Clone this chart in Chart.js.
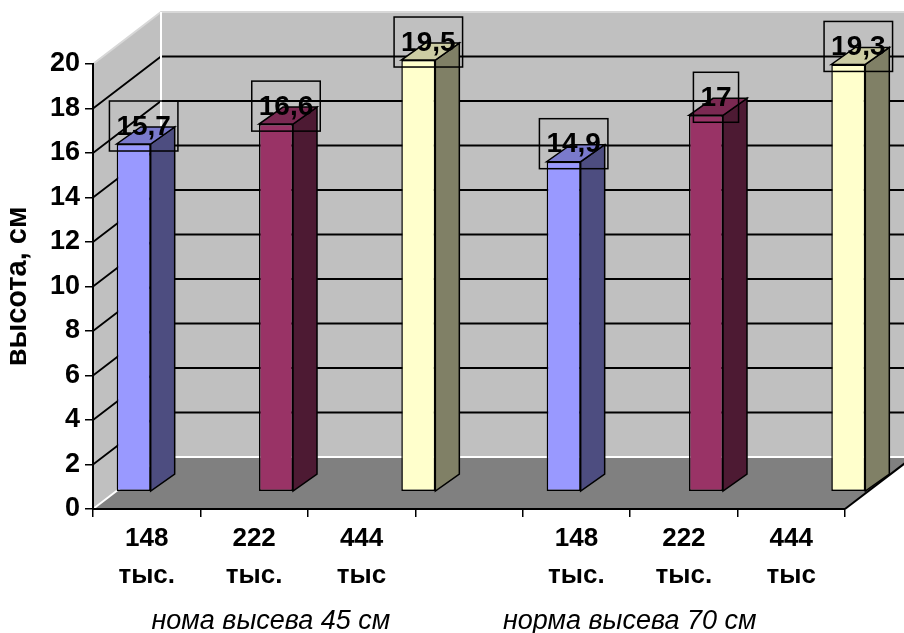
<!DOCTYPE html>
<html>
<head>
<meta charset="utf-8">
<script src="https://cdn.jsdelivr.net/npm/chart.js@4.4.0/dist/chart.umd.min.js"></script>
<style>
  html, body { margin: 0; padding: 0; background: #fff; }
</style>
</head>
<body>
<canvas id="mycanvas" width="904" height="633"></canvas>
<script>
// data
var groups = ['нома высева 45 см', 'норма высева 70 см'];
var seriesNames = ['148 тыс.', '222 тыс.', '444 тыс'];
var s148 = [15.7, 14.9];
var s222 = [16.6, 17];
var s444 = [19.5, 19.3];
var axisLabels = [['148', 'тыс.'], ['222', 'тыс.'], ['444', 'тыс'], '', ['148', 'тыс.'], ['222', 'тыс.'], ['444', 'тыс']];
var yTitle = 'высота, см';

var frontColors = ['#9999FF', '#993366', '#FFFFCC'];
var sideColors = ['#4D4D80', '#4D1A33', '#808066'];
var topColors = ['#7A7ACC', '#7A2952', '#CCCCA3'];

var FONT = 'Arial, "Liberation Sans", sans-serif';
var DX = 68, DY = -52;    // depth of walls / floor
var BDX = 24, BDY = -17;  // depth of one column

function poly(ctx, pts, fill, stroke, lw) {
	ctx.beginPath();
	ctx.moveTo(pts[0][0], pts[0][1]);
	for (var i = 1; i < pts.length; i++) ctx.lineTo(pts[i][0], pts[i][1]);
	ctx.closePath();
	if (fill) { ctx.fillStyle = fill; ctx.fill(); }
	if (stroke) { ctx.strokeStyle = stroke; ctx.lineWidth = lw || 1; ctx.stroke(); }
}

function line(ctx, pts, color, lw) {
	ctx.beginPath();
	ctx.moveTo(pts[0][0], pts[0][1]);
	for (var i = 1; i < pts.length; i++) ctx.lineTo(pts[i][0], pts[i][1]);
	ctx.strokeStyle = color;
	ctx.lineWidth = lw;
	ctx.stroke();
}

var walls3d = {
	id: 'walls3d',
	beforeDraw: function(chart) {
		var ctx = chart.ctx, ys = chart.scales.y, a = chart.chartArea;
		var y0 = ys.getPixelForValue(ys.min), yT = ys.getPixelForValue(ys.max);
		var L = a.left, R = a.right;
		ctx.save();
		// back wall
		poly(ctx, [[L + DX, yT + DY], [R + DX, yT + DY], [R + DX, y0 + DY], [L + DX, y0 + DY]], '#C0C0C0');
		// left wall
		poly(ctx, [[L, yT], [L + DX, yT + DY], [L + DX, y0 + DY], [L, y0]], '#C0C0C0');
		// floor
		poly(ctx, [[L, y0], [L + DX, y0 + DY], [R + DX, y0 + DY], [R, y0]], '#808080');
		// gridlines
		for (var v = ys.min + 2; v < ys.max; v += 2) {
			var py = ys.getPixelForValue(v);
			line(ctx, [[L, py], [L + DX, py + DY], [R + DX, py + DY]], '#000', 1.8);
		}
		// light edges
		line(ctx, [[L, yT], [L + DX, yT + DY], [R + DX, yT + DY]], '#D8D8D8', 2);
		line(ctx, [[L + DX, yT + DY], [L + DX, y0 + DY], [R + DX, y0 + DY]], '#FFFFFF', 2);
		line(ctx, [[L, y0], [L + DX, y0 + DY]], '#FFFFFF', 2);
		// right edge of floor
		line(ctx, [[R, y0], [R + DX, y0 + DY]], '#000', 2);
		ctx.restore();
	}
};

var columns3d = {
	id: 'columns3d',
	afterDatasetsDraw: function(chart) {
		var ctx = chart.ctx;
		ctx.save();
		chart.data.datasets.forEach(function(ds, di) {
			chart.getDatasetMeta(di).data.forEach(function(bar) {
				var p = bar.getProps(['x', 'y', 'base', 'width'], true);
				var l = p.x - p.width / 2, r = p.x + p.width / 2;
				poly(ctx, [[r, p.y], [r + BDX, p.y + BDY], [r + BDX, p.base + BDY], [r, p.base]], sideColors[di], '#000', 1.5);
				poly(ctx, [[l, p.y], [r, p.y], [r + BDX, p.y + BDY], [l + BDX, p.y + BDY]], topColors[di], '#000', 1.5);
			});
		});
		// value labels
		ctx.font = 'bold 28px ' + FONT;
		ctx.textAlign = 'center';
		ctx.textBaseline = 'middle';
		chart.data.datasets.forEach(function(ds, di) {
			chart.getDatasetMeta(di).data.forEach(function(bar, i) {
				var p = bar.getProps(['x', 'y'], true);
				var txt = String(ds.data[i].y).replace('.', ',');
				var w = ctx.measureText(txt).width + 14;
				var cx = p.x + 10, cy = p.y - 18;
				ctx.strokeStyle = '#000';
				ctx.lineWidth = 1.5;
				ctx.strokeRect(cx - w / 2, cy - 25, w, 50);
				ctx.fillStyle = '#000';
				ctx.fillText(txt, cx, cy + 1);
			});
		});
		ctx.restore();
	}
};

function toPoints(arr) {
	return arr.map(function(v, i) { return { x: i, y: v }; });
}

var seriesData = [s148, s222, s444];
var datasets = seriesData.map(function(vals, k) {
	return {
		label: seriesNames[k],
		data: toPoints(vals),
		xAxisID: 'xb',
		yAxisID: 'yb',
		backgroundColor: frontColors[k],
		borderColor: '#000',
		borderWidth: 1.5,
		borderSkipped: false,
		categoryPercentage: 0.993,
		barPercentage: 0.239,
		clip: false
	};
});

var ctx = document.getElementById('mycanvas');
var chart = new Chart(ctx, {
	type: 'bar',
	data: { labels: axisLabels, datasets: datasets },
	plugins: [walls3d, columns3d],
	options: {
		responsive: false,
		animation: false,
		layout: { padding: { top: 64, right: 59, bottom: 0, left: 0 } },
		plugins: { legend: { display: false }, tooltip: { enabled: false } },
		scales: {
			x: {
				type: 'category',
				position: 'bottom',
				offset: true,
				grid: { display: true, offset: true, drawOnChartArea: false, color: '#000', lineWidth: 1.5, tickLength: 8 },
				border: { display: true, color: '#000', width: 2 },
				ticks: { color: '#000', font: { family: FONT, size: 26, weight: 'bold', lineHeight: 1.4 }, padding: 4, maxRotation: 0, autoSkip: false },
				title: {
					display: true,
					text: groups[0] + '               ' + groups[1] + '    ',
					color: '#000',
					font: { family: FONT, size: 27, style: 'italic', weight: 'normal', lineHeight: 0.85 },
					padding: { top: 0, bottom: 0 }
				},
				afterFit: function(s) { s.height = 124; }
			},
			y: {
				position: 'left',
				min: 0,
				max: 20,
				grid: { display: true, drawOnChartArea: false, color: '#000', lineWidth: 1.5, tickLength: 8 },
				border: { display: true, color: '#000', width: 2 },
				ticks: { stepSize: 2, color: '#000', font: { family: FONT, size: 27, weight: 'bold' }, padding: 5 },
				title: {
					display: true,
					text: yTitle,
					color: '#000',
					font: { family: FONT, size: 29, weight: 'bold', lineHeight: 1.1 },
					padding: { top: 2, bottom: 0 }
				},
				afterFit: function(s) { s.width = 93; }
			},
			xb: {
				type: 'linear',
				display: false,
				offset: false,
				min: -0.4256,
				max: 1.3233,
				afterBuildTicks: function(s) { s.ticks = []; }
			},
			yb: {
				type: 'linear',
				display: false,
				min: -0.8145,
				max: 19.32
			}
		}
	}
});
</script>
</body>
</html>
